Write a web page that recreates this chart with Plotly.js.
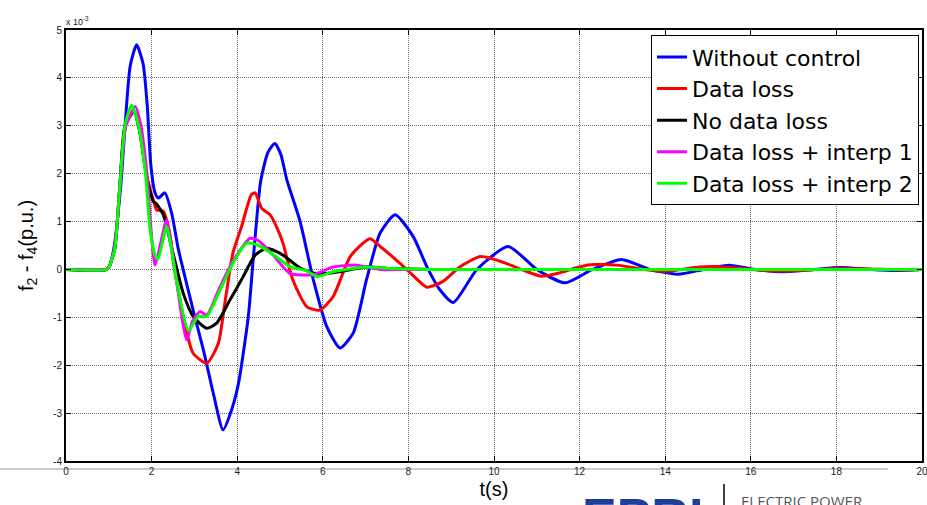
<!DOCTYPE html>
<html>
<head>
<meta charset="utf-8">
<script src="https://cdn.plot.ly/plotly-3.0.1.min.js"></script>
<style>html,body{margin:0;padding:0;background:#fff;}#chart{width:927px;height:505px;}</style>
</head>
<body>
<div id="chart"></div>
<script>
// values in units of 1e-3 p.u.
const seriesNames = ["Without control", "Data loss", "No data loss", "Data loss + interp 1", "Data loss + interp 2"];
const seriesColors = ["#0000ff", "#ff0000", "#000000", "#ff00ff", "#00ff00"];

const tWithout = [0,0.95,1.02,1.12,1.28,1.38,1.5,1.65,1.8,1.9,1.98,2.08,2.16,2.31,2.47,2.62,2.74,2.97,3.21,3.44,3.67,3.87,4.03,4.26,4.38,4.55,4.72,4.88,5.02,5.16,5.47,5.78,6.09,6.4,6.71,7.02,7.34,7.69,8.11,8.43,8.74,9.05,9.6,10.33,11.0,11.66,12.3,12.98,13.65,14.3,14.9,15.5,16.1,16.8,17.5,18.1,18.8,19.4,20];
const yWithout = [0,0,0.08,0.45,1.76,3.0,4.25,4.69,4.3,3.4,2.2,1.6,1.49,1.6,1.17,0.44,-0.01,-0.85,-1.68,-2.58,-3.35,-2.93,-2.38,-0.98,0.27,1.85,2.45,2.63,2.4,1.87,1.0,-0.22,-1.19,-1.64,-1.33,-0.22,0.76,1.14,0.69,0.06,-0.43,-0.69,0.0,0.48,0.0,-0.28,0.0,0.21,0.0,-0.1,0.0,0.09,0.0,-0.05,0.0,0.04,0.0,-0.02,0.0];

const tLoss = [0,0.95,1.02,1.14,1.26,1.38,1.6,1.72,1.88,2.05,2.12,2.27,2.43,2.5,2.74,2.97,3.29,3.56,3.71,3.9,4.1,4.33,4.42,4.57,4.77,4.92,5.07,5.3,5.63,5.93,6.24,6.64,7.1,7.34,7.8,8.1,8.43,8.81,9.2,9.67,9.9,10.3,10.7,11.1,11.5,11.9,12.25,12.87,13.5,14.03,14.8,15.2,15.8,16.5,17.2,18.0,18.8,19.5,20];
const yLoss = [0,0,0.08,0.44,1.76,3.0,3.3,2.9,1.97,1.42,1.24,1.22,0.72,0.2,-0.98,-1.75,-1.96,-1.54,-0.71,0.34,0.89,1.56,1.6,1.28,1.14,0.89,0.55,-0.22,-0.78,-0.85,-0.57,0.27,0.64,0.48,0.13,-0.12,-0.37,-0.25,0.05,0.27,0.24,0.12,-0.02,-0.14,-0.08,0.03,0.1,0.09,0.0,-0.04,0.05,0.06,0.02,-0.03,-0.02,0.02,0.01,-0.01,0.0];

const tNoLoss = [0,0.95,1.02,1.14,1.26,1.38,1.58,1.72,1.88,2.04,2.1,2.27,2.5,2.74,2.97,3.29,3.52,3.83,4.14,4.42,4.69,5.07,5.47,5.86,6.24,7.02,7.6,8.5,10,20];
const yNoLoss = [0,0,0.08,0.44,1.76,3.0,3.3,2.9,1.97,1.42,1.38,1.15,0.34,-0.5,-0.98,-1.23,-1.12,-0.64,-0.15,0.3,0.44,0.3,0.03,-0.09,-0.07,0.05,0.02,0.0,0.0,0.0];

const tInterp1 = [0,0.95,1.02,1.14,1.26,1.4,1.62,1.75,1.9,1.98,2.08,2.2,2.35,2.45,2.58,2.82,2.95,3.13,3.29,3.6,3.9,4.3,4.5,4.84,5.23,5.77,6.24,6.79,7.34,8,20];
const yInterp1 = [0,0,0.08,0.44,1.76,3.0,3.4,3.0,1.9,0.9,0.09,0.5,1.03,0.6,-0.22,-1.47,-1.1,-0.88,-0.95,-0.36,0.17,0.65,0.6,0.3,-0.08,-0.11,0.05,0.09,0.0,0.0,0.0];

const tInterp2 = [0,0.95,1.02,1.14,1.26,1.38,1.53,1.69,1.86,1.96,2.08,2.15,2.35,2.43,2.58,2.86,3.09,3.29,3.6,3.9,4.22,4.5,4.92,5.23,5.62,5.86,6.24,7.02,7.6,8.5,20];
const yInterp2 = [0,0,0.08,0.44,1.76,3.02,3.43,3.02,1.97,0.87,0.3,0.22,0.9,0.6,-0.22,-1.28,-0.98,-0.98,-0.43,0.13,0.55,0.5,0.26,0.06,-0.03,-0.15,-0.05,0.05,0.02,0.0,0.0];

const xTicks = [0,2,4,6,8,10,12,14,16,18,20];
const yTicks = [-4,-3,-2,-1,0,1,2,3,4,5];

const xs = [tWithout, tLoss, tNoLoss, tInterp1, tInterp2];
const ys = [yWithout, yLoss, yNoLoss, yInterp1, yInterp2];

const traces = seriesNames.map((n, i) => ({
  x: xs[i], y: ys[i], name: n, type: 'scatter', mode: 'lines',
  line: {color: seriesColors[i], width: 3, shape: 'spline', smoothing: 0.6}
}));

const axisCommon = {
  showline: true, linecolor: '#000', linewidth: 2, mirror: 'allticks',
  ticks: 'inside', ticklen: 5, tickcolor: '#000', tickwidth: 1,
  showgrid: true, gridcolor: '#707070', gridwidth: 1, griddash: '1px,1px',
  zeroline: false, ticklabeloverflow: 'allow',
  tickfont: {family: 'Arial, Liberation Sans, sans-serif', size: 10, color: '#222'}
};

const layout = {
  width: 927, height: 505,
  margin: {l: 66, r: 5, t: 30, b: 44},
  paper_bgcolor: '#fff', plot_bgcolor: '#fff',
  font: {family: 'Arial, Liberation Sans, sans-serif'},
  xaxis: Object.assign({}, axisCommon, {
    range: [0, 20], tickvals: xTicks, ticktext: xTicks.map(String),
    title: {text: 't(s)', font: {size: 20, color: '#000'}, standoff: 6}
  }),
  yaxis: Object.assign({}, axisCommon, {
    range: [-4, 5], tickvals: yTicks, ticktext: yTicks.map(String),
    title: {text: 'f<sub>2</sub> - f<sub>4</sub>(p.u.)', font: {size: 20, color: '#000'}, standoff: 14}
  }),
  showlegend: true,
  legend: {
    x: 0.9965, y: 0.988, xanchor: 'right', yanchor: 'top',
    bgcolor: '#fff', bordercolor: '#000', borderwidth: 1,
    font: {size: 22, color: '#000', family: 'DejaVu Sans, sans-serif'},
    itemwidth: 30, tracegroupgap: 0
  },
  shapes: [
    {type: 'line', xref: 'paper', yref: 'paper', x0: -0.0771, x1: 0.96, y0: -0.0186, y1: -0.0186,
     line: {color: '#cccccc', width: 2}, layer: 'below'},
    {type: 'line', xref: 'paper', yref: 'paper', x0: 0.7687, x1: 0.7687, y0: -0.0534, y1: -0.102,
     line: {color: '#000', width: 1.5}}
  ],
  annotations: [
    {text: 'x 10<sup>-3</sup>', xref: 'paper', yref: 'paper', x: 0, y: 1, xanchor: 'left', yanchor: 'bottom',
     showarrow: false, font: {size: 9, color: '#222'}, xshift: -2, yshift: 1},
    {text: '<b>EPRI</b>', xref: 'paper', yref: 'paper', x: 0.6, y: -0.058, xanchor: 'left', yanchor: 'top',
     showarrow: false, font: {size: 52, color: '#1f3f99', family: 'Arial, Liberation Sans, sans-serif'}},
    {text: 'ELECTRIC POWER', xref: 'paper', yref: 'paper', x: 0.7865, y: -0.064, xanchor: 'left', yanchor: 'top',
     showarrow: false, font: {size: 15, color: '#555', family: 'Open Sans, sans-serif'}}
  ]
};

Plotly.newPlot('chart', traces, layout, {displayModeBar: false, staticPlot: true});
</script>
</body>
</html>
